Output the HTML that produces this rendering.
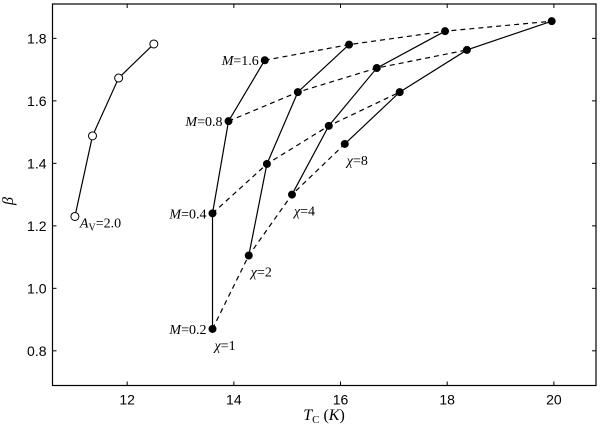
<!DOCTYPE html>
<html><head><meta charset="utf-8"><style>
body{margin:0;background:#fff}
svg{display:block;font-family:"Liberation Sans",sans-serif}
.it{font-family:"Liberation Serif",serif;font-style:italic}
.rm{font-family:"Liberation Serif",serif;font-style:normal}
</style></head><body>
<svg id="c" width="600" height="429" viewBox="0 0 600 429"></svg>
<script>
const chiValues=[1,2,4,8];
const massValues=[0.2,0.4,0.8,1.6];
const tcSeries=[[13.6,13.6,13.9,14.58],[14.28,14.62,15.2,16.16],[15.09,15.78,16.68,17.96],[16.08,17.11,18.37,19.96]];
const betaSeries=[[0.87,1.24,1.535,1.73],[1.105,1.398,1.628,1.78],[1.30,1.52,1.705,1.823],[1.462,1.628,1.763,1.855]];
const avTc=[11.02,11.35,11.84,12.5];
const avBeta=[1.23,1.488,1.673,1.782];
const xTicks=[12,14,16,18,20];
const yTicks=[0.8,1.0,1.2,1.4,1.6,1.8];
const L=52.5,R=596,T=4,B=385.5,xmin=10.6,xmax=20.79,ymin=0.689,ymax=1.91;
const X=v=>L+(v-xmin)/(xmax-xmin)*(R-L);
const Y=v=>B-(v-ymin)/(ymax-ymin)*(B-T);
const s=document.getElementById('c');const NS='http://www.w3.org/2000/svg';
function el(t,a,p){const e=document.createElementNS(NS,t);for(const k in a)e.setAttribute(k,a[k]);(p||s).appendChild(e);return e;}
const ax=el('rect',{x:L,y:T,width:R-L,height:B-T,fill:'none',stroke:'#000','stroke-width':1.2});

xTicks.forEach(v=>{const x=X(v);
el('line',{x1:x,x2:x,y1:B,y2:B-4,stroke:'#000'});el('line',{x1:x,x2:x,y1:T,y2:T+4,stroke:'#000'});
const t=el('text',{x:x,y:B+19,'text-anchor':'middle','font-size':14});t.textContent=v;
});
yTicks.forEach(v=>{const y=Y(v);
el('line',{x1:L,x2:L+4,y1:y,y2:y,stroke:'#000'});el('line',{x1:R,x2:R-4,y1:y,y2:y,stroke:'#000'});
const t=el('text',{x:L-6,y:y+5,'text-anchor':'end','font-size':14});t.textContent=v.toFixed(1);
});
const xt=el('text',{x:324,y:420,'text-anchor':'middle','font-size':16,class:'it'});
xt.innerHTML='T<tspan class="rm" font-size="11" dy="3">C</tspan><tspan class="rm" dy="-3"> (</tspan>K<tspan class="rm">)</tspan>';

const yt=el('text',{x:0,y:0,'text-anchor':'middle','font-size':16,class:'it',transform:'translate(13,201) rotate(-90)'});yt.textContent='β';

function line(xs,ys,dash,name){const p=el('polyline',{points:xs.map((x,i)=>X(x)+','+Y(ys[i])).join(' '),fill:'none',stroke:'#000','stroke-width':1.2});
if(dash)p.setAttribute('stroke-dasharray','5,4');
}
// dashed M curves
massValues.forEach((m,j)=>line(chiValues.map((c,i)=>tcSeries[i][j]),chiValues.map((c,i)=>betaSeries[i][j]),true,'mass-curve-'+m));
chiValues.forEach((c,i)=>line(tcSeries[i],betaSeries[i],false,'chi-line-'+c));
line(avTc,avBeta,false,'av-line');
chiValues.forEach((c,i)=>tcSeries[i].forEach((x,j)=>{const d=el('circle',{cx:X(x),cy:Y(betaSeries[i][j]),r:4,fill:'#000'});
}));
avTc.forEach((x,i)=>{const d=el('circle',{cx:X(x),cy:Y(avBeta[i]),r:4,fill:'#fff',stroke:'#000'});
});
function lab(x,y,html,anchor,name){const t=el('text',{x:x,y:y,'text-anchor':anchor,'font-size':14,class:'rm'});t.innerHTML=html;
}
massValues.forEach((m,j)=>lab(X(tcSeries[0][j])-6,Y(betaSeries[0][j])+5,'<tspan class="it">M</tspan>='+m,'end','mass-label-'+m));
chiValues.forEach((c,i)=>lab(X(tcSeries[i][0])+2,Y(betaSeries[i][0])+21,'<tspan class="it">χ</tspan>='+c,'start','chi-label-'+c));
lab(X(avTc[0])+5,Y(avBeta[0])+11,'<tspan class="it">A</tspan><tspan font-size="10" dy="3">V</tspan><tspan dy="-3">=2.0</tspan>','start','av-label');
</script>
</body></html>
